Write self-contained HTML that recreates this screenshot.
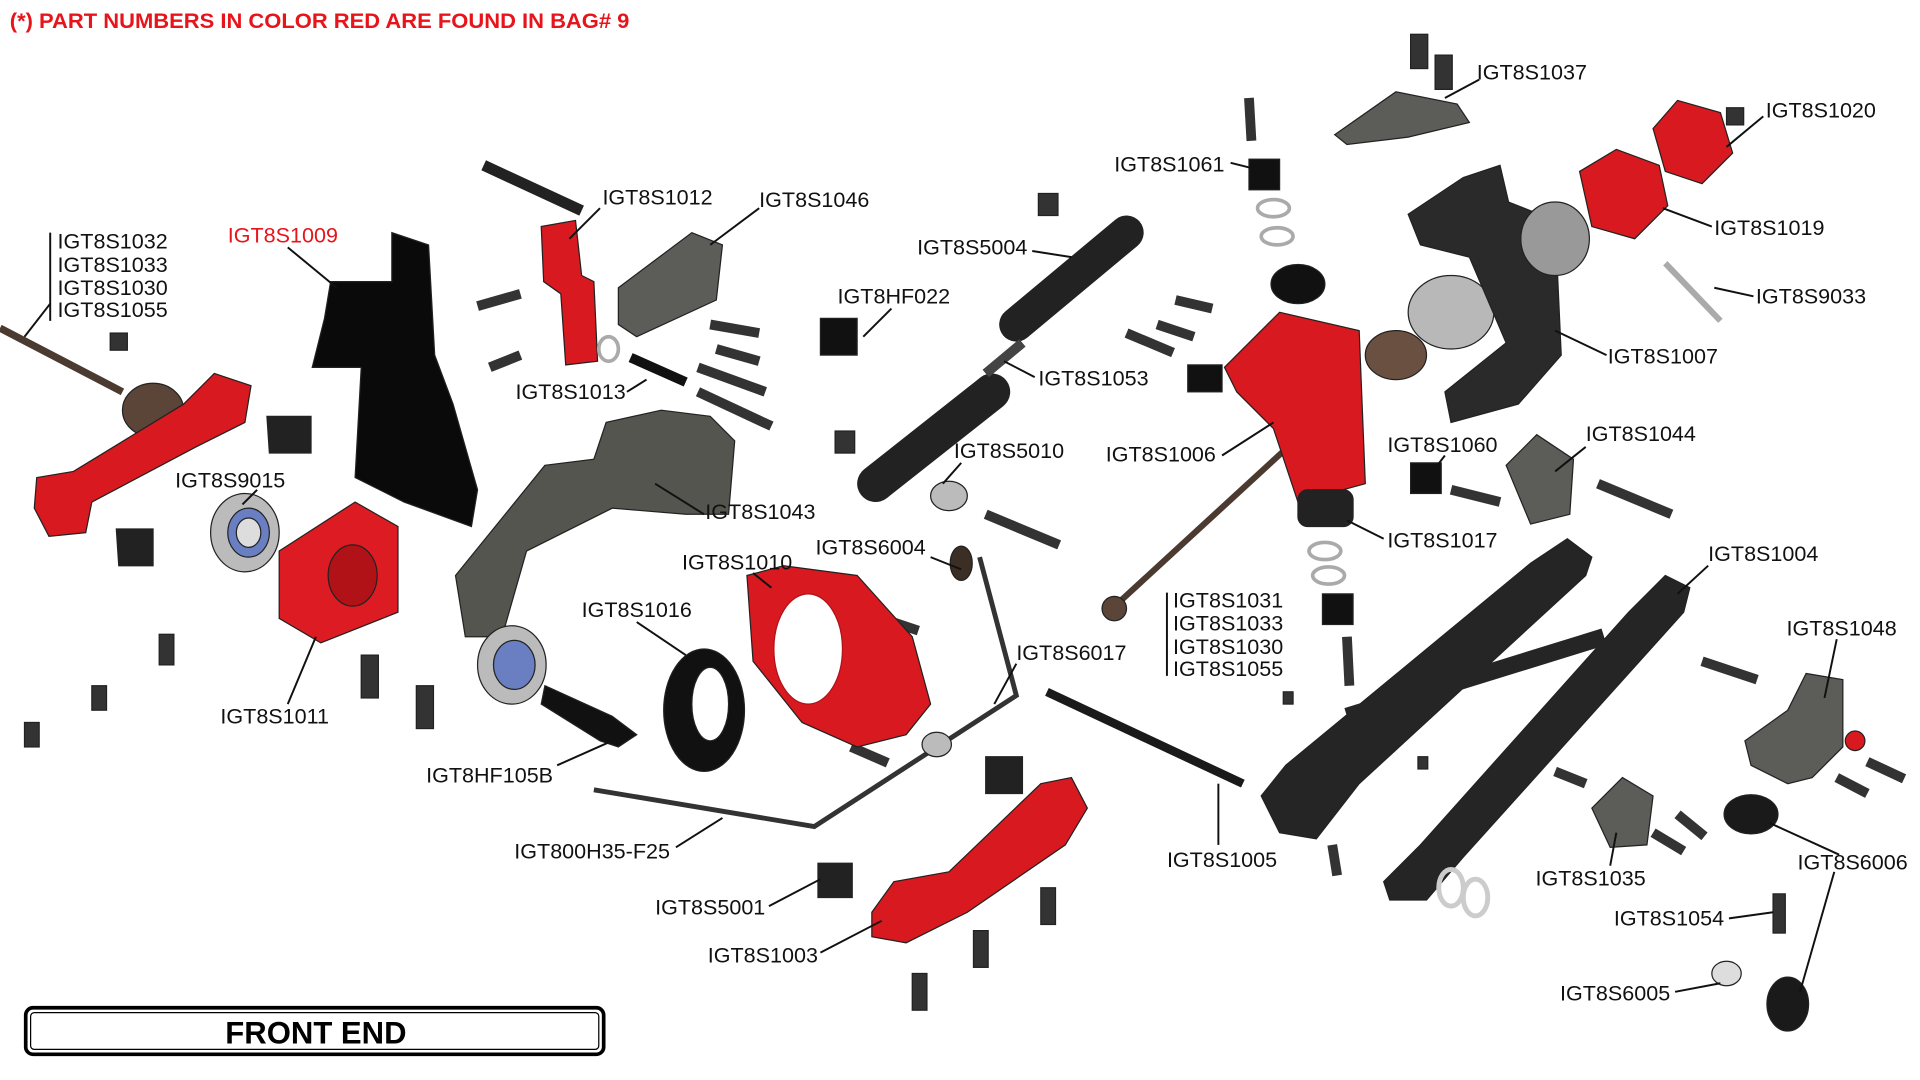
<!DOCTYPE html>
<html><head><meta charset="utf-8"><style>
html,body{margin:0;padding:0;background:#fff;width:1920px;height:1080px;overflow:hidden}
svg{display:block}
text{font-family:"Liberation Sans",sans-serif;font-size:17.6px;fill:#111}
.r{fill:#e8141b}
</style></head><body>
<svg width="1920" height="1080" viewBox="0 0 1568 882" preserveAspectRatio="none">
<text x="8" y="23" textLength="506" lengthAdjust="spacingAndGlyphs" style="font-weight:bold;font-size:17px;fill:#e8141b">(*) PART NUMBERS IN COLOR RED ARE FOUND IN BAG# 9</text>

<g stroke="#222" stroke-width="1">
<line x1="0" y1="268" x2="100" y2="320" stroke="#4a3a30" stroke-width="6"/>
<ellipse cx="125" cy="335" rx="25" ry="22" fill="#5a4538"/>
<polygon points="30,390 60,385 150,330 175,305 205,315 200,345 160,365 75,410 70,435 40,438 28,415" fill="#d8191f"/>
<polygon points="270,230 320,230 320,190 350,200 355,290 370,330 390,400 385,430 330,410 290,390 295,300 255,300 265,260" fill="#0a0a0a"/>
<ellipse cx="200" cy="435" rx="28" ry="32" fill="#bbb"/><ellipse cx="203" cy="435" rx="17" ry="20" fill="#6a7fc2"/><ellipse cx="203" cy="435" rx="10" ry="12" fill="#ddd"/>
<polygon points="228,450 290,410 325,430 325,500 262,525 228,505" fill="#dc1c22"/>
<ellipse cx="288" cy="470" rx="20" ry="25" fill="#b01218"/>
<path d="M95,432 h30 v30 h-28z" fill="#222"/>
<path d="M218,340 h36 v30 h-34z" fill="#222"/>
<polygon points="442,185 470,180 475,225 485,230 488,295 462,298 458,240 444,230" fill="#d8191f"/>
<line x1="395" y1="135" x2="475" y2="172" stroke="#222" stroke-width="9"/>
<polygon points="505,235 565,190 590,200 585,245 520,275 505,265" fill="#5c5c58"/>
<polygon points="372,470 445,380 485,375 495,345 540,335 580,340 600,360 595,420 560,420 500,415 430,450 410,520 380,520" fill="#55554f"/>
<g stroke="#333" stroke-width="8">
<line x1="580" y1="265" x2="620" y2="272"/><line x1="585" y1="285" x2="620" y2="295"/>
<line x1="570" y1="300" x2="625" y2="320"/><line x1="570" y1="320" x2="630" y2="348"/>
<line x1="515" y1="292" x2="560" y2="312" stroke="#111"/>
<line x1="390" y1="250" x2="425" y2="240"/><line x1="400" y1="300" x2="425" y2="290"/>
<line x1="805" y1="420" x2="865" y2="445"/><line x1="705" y1="500" x2="750" y2="515"/>
<line x1="695" y1="610" x2="725" y2="623"/><line x1="1305" y1="395" x2="1365" y2="420"/>
<line x1="1185" y1="400" x2="1225" y2="410"/><line x1="1390" y1="540" x2="1435" y2="555"/>
<line x1="1270" y1="630" x2="1295" y2="640"/><line x1="1350" y1="680" x2="1375" y2="695"/>
<line x1="1370" y1="665" x2="1392" y2="683"/><line x1="1500" y1="635" x2="1525" y2="648"/>
<line x1="1525" y1="622" x2="1555" y2="636"/><line x1="960" y1="245" x2="990" y2="252"/>
<line x1="945" y1="265" x2="975" y2="275"/><line x1="920" y1="272" x2="958" y2="288"/>
<line x1="1020" y1="80" x2="1022" y2="115"/><line x1="1100" y1="520" x2="1102" y2="560"/>
<line x1="1088" y1="690" x2="1092" y2="715"/>
</g>
<g fill="#333">
<rect x="20" y="590" width="12" height="20"/><rect x="75" y="560" width="12" height="20"/><rect x="130" y="518" width="12" height="25"/>
<rect x="295" y="535" width="14" height="35"/><rect x="340" y="560" width="14" height="35"/>
<rect x="745" y="795" width="12" height="30"/><rect x="795" y="760" width="12" height="30"/><rect x="850" y="725" width="12" height="30"/>
<rect x="90" y="272" width="14" height="14"/><rect x="848" y="158" width="16" height="18"/><rect x="682" y="352" width="16" height="18"/>
<rect x="1410" y="88" width="14" height="14"/><rect x="1158" y="618" width="8" height="10"/><rect x="1048" y="565" width="8" height="10"/>
<rect x="1152" y="28" width="14" height="28"/><rect x="1172" y="45" width="14" height="28"/>
</g>
<ellipse cx="418" cy="543" rx="28" ry="32" fill="#bbb"/><ellipse cx="420" cy="543" rx="17" ry="20" fill="#6a7fc2"/>
<polygon points="445,560 500,585 520,600 505,610 490,605 442,575" fill="#111"/>
<ellipse cx="575" cy="580" rx="33" ry="50" fill="#111"/><ellipse cx="580" cy="575" rx="15" ry="30" fill="#fff"/>
<path d="M610,470 L640,462 L700,470 L745,520 L760,575 L740,600 L700,610 L655,590 L615,540 Z" fill="#d8191f"/>
<ellipse cx="660" cy="530" rx="28" ry="45" fill="#fff" stroke="#b01218"/>
<line x1="715" y1="395" x2="810" y2="320" stroke="#222" stroke-width="30" stroke-linecap="round"/>
<line x1="830" y1="265" x2="920" y2="190" stroke="#222" stroke-width="28" stroke-linecap="round"/>
<line x1="805" y1="305" x2="835" y2="280" stroke="#444" stroke-width="8"/>
<rect x="670" y="260" width="30" height="30" fill="#111"/>
<ellipse cx="775" cy="405" rx="15" ry="12" fill="#bbb"/>
<polyline points="485,645 665,675 830,568 800,455" fill="none" stroke="#333" stroke-width="4"/>
<ellipse cx="785" cy="460" rx="9" ry="14" fill="#3a2e25"/>
<ellipse cx="765" cy="608" rx="12" ry="10" fill="#bbb"/>
<polygon points="712,745 730,720 775,712 850,640 875,635 888,660 870,690 790,745 740,770 712,765" fill="#d8191f"/>
<path d="M805,618 h30 v30 h-30z" fill="#222"/>
<path d="M668,705 h28 v28 h-28z" fill="#222"/>
<line x1="855" y1="565" x2="1015" y2="640" stroke="#1a1a1a" stroke-width="7"/>
<line x1="905" y1="500" x2="1090" y2="330" stroke="#4a3a30" stroke-width="5"/>
<circle cx="910" cy="497" r="10" fill="#5a4538"/>
<polygon points="1000,300 1045,255 1110,270 1115,395 1060,410 1040,350 1010,320" fill="#d8191f"/>
<ellipse cx="1140" cy="290" rx="25" ry="20" fill="#6a5040"/>
<ellipse cx="1185" cy="255" rx="35" ry="30" fill="#b8b8b8"/>
<ellipse cx="1060" cy="232" rx="22" ry="16" fill="#111"/>
<rect x="1060" y="400" width="45" height="30" rx="8" fill="#222"/>
<rect x="970" y="298" width="28" height="22" fill="#111"/>
<rect x="1020" y="130" width="25" height="25" fill="#111"/>
<rect x="1152" y="378" width="25" height="25" fill="#111"/>
<rect x="1080" y="485" width="25" height="25" fill="#111"/>
<polygon points="1150,175 1195,145 1225,135 1232,165 1270,180 1275,290 1240,330 1185,345 1180,320 1230,280 1200,210 1160,200" fill="#2a2a2a"/>
<ellipse cx="1270" cy="195" rx="28" ry="30" fill="#999"/>
<polygon points="1290,140 1320,122 1355,135 1362,168 1335,195 1300,185" fill="#d8191f"/>
<polygon points="1350,105 1370,82 1405,92 1415,125 1390,150 1360,140" fill="#d8191f"/>
<line x1="1360" y1="215" x2="1405" y2="262" stroke="#aaa" stroke-width="5"/>
<polygon points="1090,110 1140,75 1190,85 1200,100 1150,112 1100,118" fill="#5c5c58"/>
<polygon points="1230,380 1255,355 1285,375 1282,420 1250,428" fill="#5c5c58"/>
<polygon points="1030,650 1050,625 1250,460 1280,440 1300,455 1295,470 1110,640 1075,685 1045,680" fill="#252525"/>
<polygon points="1130,720 1160,690 1330,500 1360,470 1380,480 1375,500 1195,700 1165,735 1135,735" fill="#252525"/>
<line x1="1100" y1="585" x2="1310" y2="520" stroke="#252525" stroke-width="14"/>
<ellipse cx="1185" cy="725" rx="10" ry="15" fill="none" stroke="#ccc" stroke-width="4"/>
<ellipse cx="1205" cy="733" rx="10" ry="15" fill="none" stroke="#ccc" stroke-width="4"/>
<polygon points="1425,605 1460,580 1475,550 1505,555 1505,610 1480,635 1460,640 1430,625" fill="#5c5c58"/>
<circle cx="1515" cy="605" r="8" fill="#d8191f"/>
<polygon points="1300,660 1325,635 1350,650 1345,690 1315,692" fill="#5c5c58"/>
<ellipse cx="1430" cy="665" rx="22" ry="16" fill="#1a1a1a"/>
<ellipse cx="1460" cy="820" rx="17" ry="22" fill="#1a1a1a"/>
<rect x="1448" y="730" width="10" height="32" fill="#333"/>
<ellipse cx="1410" cy="795" rx="12" ry="10" fill="#ddd"/>
<g fill="none" stroke="#aaa" stroke-width="3"><ellipse cx="1040" cy="170" rx="13" ry="7"/><ellipse cx="1043" cy="193" rx="13" ry="7"/><ellipse cx="1082" cy="450" rx="13" ry="7"/><ellipse cx="1085" cy="470" rx="13" ry="7"/></g>
<ellipse cx="497" cy="285" rx="8" ry="10" fill="none" stroke="#aaa" stroke-width="3"/>
</g>

<g stroke="#111" stroke-width="1.6" fill="none">
<line x1="41" y1="190" x2="41" y2="262"/><line x1="41" y1="248" x2="20" y2="275"/>
<line x1="235" y1="202" x2="275" y2="235"/>
<line x1="490" y1="170" x2="465" y2="195"/>
<line x1="620" y1="170" x2="580" y2="200"/>
<line x1="512" y1="320" x2="528" y2="310"/>
<line x1="843" y1="205" x2="875" y2="210"/>
<line x1="728" y1="252" x2="705" y2="275"/>
<line x1="845" y1="308" x2="820" y2="295"/>
<line x1="785" y1="378" x2="770" y2="395"/>
<line x1="1005" y1="133" x2="1025" y2="138"/>
<line x1="1208" y1="65" x2="1180" y2="80"/>
<line x1="1440" y1="95" x2="1410" y2="120"/>
<line x1="1398" y1="185" x2="1358" y2="170"/>
<line x1="1432" y1="242" x2="1400" y2="235"/>
<line x1="1312" y1="290" x2="1270" y2="270"/>
<line x1="998" y1="372" x2="1040" y2="345"/>
<line x1="1180" y1="372" x2="1170" y2="385"/>
<line x1="1295" y1="365" x2="1270" y2="385"/>
<line x1="1130" y1="440" x2="1100" y2="425"/>
<line x1="1395" y1="462" x2="1370" y2="485"/>
<line x1="1500" y1="522" x2="1490" y2="570"/>
<line x1="210" y1="400" x2="198" y2="412"/>
<line x1="575" y1="420" x2="535" y2="395"/>
<line x1="615" y1="468" x2="630" y2="480"/>
<line x1="760" y1="455" x2="785" y2="465"/>
<line x1="520" y1="508" x2="560" y2="535"/>
<line x1="830" y1="542" x2="812" y2="575"/>
<line x1="953" y1="484" x2="953" y2="552"/>
<line x1="235" y1="575" x2="258" y2="520"/>
<line x1="455" y1="625" x2="500" y2="605"/>
<line x1="552" y1="692" x2="590" y2="668"/>
<line x1="995" y1="690" x2="995" y2="640"/>
<line x1="628" y1="740" x2="670" y2="718"/>
<line x1="670" y1="778" x2="720" y2="752"/>
<line x1="1315" y1="707" x2="1320" y2="680"/>
<line x1="1412" y1="750" x2="1448" y2="745"/>
<line x1="1368" y1="810" x2="1405" y2="803"/>
<line x1="1498" y1="712" x2="1470" y2="810"/>
<line x1="1502" y1="698" x2="1445" y2="672"/>
</g>

<text x="47" y="203">IGT8S1032</text>
<text x="47" y="222">IGT8S1033</text>
<text x="47" y="241">IGT8S1030</text>
<text x="47" y="259">IGT8S1055</text>
<text x="186" y="198" class="r">IGT8S1009</text>
<text x="492" y="167">IGT8S1012</text>
<text x="620" y="169">IGT8S1046</text>
<text x="421" y="326">IGT8S1013</text>
<text x="749" y="208">IGT8S5004</text>
<text x="684" y="248">IGT8HF022</text>
<text x="848" y="315">IGT8S1053</text>
<text x="779" y="374">IGT8S5010</text>
<text x="143" y="398">IGT8S9015</text>
<text x="576" y="424">IGT8S1043</text>
<text x="666" y="453">IGT8S6004</text>
<text x="557" y="465">IGT8S1010</text>
<text x="475" y="504">IGT8S1016</text>
<text x="830" y="539">IGT8S6017</text>
<text x="180" y="591">IGT8S1011</text>
<text x="348" y="639">IGT8HF105B</text>
<text x="420" y="701">IGT800H35-F25</text>
<text x="535" y="747">IGT8S5001</text>
<text x="578" y="786">IGT8S1003</text>
<text x="910" y="140">IGT8S1061</text>
<text x="1206" y="65">IGT8S1037</text>
<text x="1442" y="96">IGT8S1020</text>
<text x="1400" y="192">IGT8S1019</text>
<text x="1434" y="248">IGT8S9033</text>
<text x="1313" y="297">IGT8S1007</text>
<text x="903" y="377">IGT8S1006</text>
<text x="1133" y="369">IGT8S1060</text>
<text x="1295" y="360">IGT8S1044</text>
<text x="1133" y="447">IGT8S1017</text>
<text x="1395" y="458">IGT8S1004</text>
<text x="958" y="496">IGT8S1031</text>
<text x="958" y="515">IGT8S1033</text>
<text x="958" y="534">IGT8S1030</text>
<text x="958" y="552">IGT8S1055</text>
<text x="1459" y="519">IGT8S1048</text>
<text x="953" y="708">IGT8S1005</text>
<text x="1254" y="723">IGT8S1035</text>
<text x="1468" y="710">IGT8S6006</text>
<text x="1318" y="756">IGT8S1054</text>
<text x="1274" y="817">IGT8S6005</text>

<rect x="21" y="823" width="472" height="38" rx="6" fill="#fff" stroke="#000" stroke-width="3"/>
<rect x="25" y="827" width="464" height="30" rx="3" fill="none" stroke="#000" stroke-width="1"/>
<text x="258" y="852" text-anchor="middle" textLength="148" lengthAdjust="spacingAndGlyphs" style="font-weight:bold;font-size:26px;fill:#000">FRONT END</text>
</svg>
</body></html>
